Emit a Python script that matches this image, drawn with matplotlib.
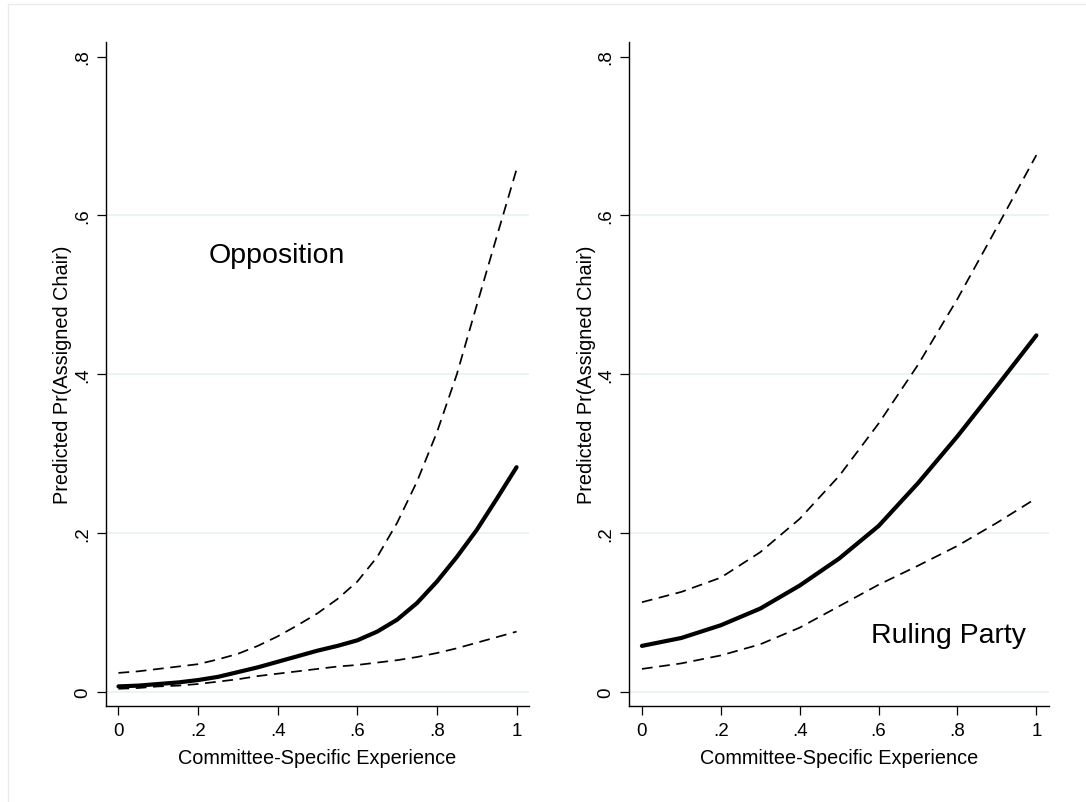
import matplotlib
matplotlib.use("Agg")
import matplotlib.pyplot as plt
from matplotlib.patches import Rectangle

plt.rcParams['font.family'] = ['Liberation Sans', 'DejaVu Sans']

# data
x_opp = [0, .05, .1, .15, .2, .25, .3, .35, .4, .45, .5,
         .55, .6, .65, .7, .75, .8, .85, .9, .95, 1.0]
opp_mid = [.007, .008, .010, .012, .015, .019, .025, .031, .038, .045, .052,
           .058, .065, .076, .091, .112, .139, .170, .204, .243, .283]
opp_hi = [.024, .026, .029, .032, .035, .041, .048, .058, .070, .084, .099,
          .117, .139, .170, .213, .265, .327, .400, .487, .573, .658]
opp_lo = [.004, .005, .007, .008, .010, .013, .016, .020, .023, .026, .029,
          .032, .034, .037, .040, .044, .049, .055, .062, .069, .076]

x_rul = [0, .1, .2, .3, .4, .5, .6, .7, .8, .9, 1.0]
rul_mid = [.058, .068, .084, .105, .134, .168, .209, .263, .322, .385, .449]
rul_hi = [.113, .126, .144, .176, .218, .272, .338, .412, .495, .585, .676]
rul_lo = [.029, .036, .046, .060, .081, .108, .135, .159, .184, .213, .244]

xticks = [0, .2, .4, .6, .8, 1]
xtick_labels = ['0', '.2', '.4', '.6', '.8', '1']
yticks = [0, .2, .4, .6, .8]
ytick_labels = ['0', '.2', '.4', '.6', '.8']
grid_vals = [0, .2, .4, .6]

W, H = 1086, 803
fig = plt.figure(figsize=(W / 100, H / 100), dpi=100)
fig.patches.append(Rectangle((8 / W, -0.1), 1.2, 1.1 - 5 / H, transform=fig.transFigure,
                             fill=False, edgecolor='#ebebeb', lw=1.0))

bot = (H - 706.7) / H
top = (H - 43.3) / H
ax1 = fig.add_axes([105.7 / W, bot, 423.6 / W, top - bot])
ax2 = fig.add_axes([629.3 / W, bot, 419.7 / W, top - bot])

panels = [
    (ax1, x_opp, opp_mid, opp_hi, opp_lo, 'Opposition', 0.397, 0.541),
    (ax2, x_rul, rul_mid, rul_hi, rul_lo, 'Ruling Party', 0.777, 0.063),
]

for ax, xs, mid, hi, lo, lab, tx, ty in panels:
    for g in grid_vals:
        ax.axhline(g, color='#eaf2f3', lw=1.3, zorder=0)
    ax.plot(xs, hi, color='black', lw=1.25, dashes=(6.2, 3.8))
    ax.plot(xs, lo, color='black', lw=1.25, dashes=(6.2, 3.8))
    ax.plot(xs, mid, color='black', lw=3.0, solid_capstyle='round',
            solid_joinstyle='round')
    ax.text(tx, ty, lab, ha='center', va='baseline', fontsize=20.5)

    ax.set_xlim(-0.032, 1.032)
    ax.set_ylim(-0.0173, 0.818)
    ax.set_xticks(xticks)
    ax.set_xticklabels(xtick_labels)
    ax.set_yticks(yticks)
    ax.set_yticklabels(ytick_labels, rotation=90, va='center')
    ax.spines['top'].set_visible(False)
    ax.spines['right'].set_visible(False)
    for s in ['left', 'bottom']:
        ax.spines[s].set_linewidth(1.0)
    ax.tick_params(direction='out', length=6.5, width=0.9, labelsize=13.5)
    ax.tick_params(axis='x', pad=5.5)
    ax.tick_params(axis='y', pad=4)
    ax.set_xlabel('Committee-Specific Experience', fontsize=14.3, labelpad=6)
    ax.set_ylabel('Predicted Pr(Assigned Chair)', fontsize=14.3, labelpad=1.5)

fig.savefig('out.png', dpi=100)
